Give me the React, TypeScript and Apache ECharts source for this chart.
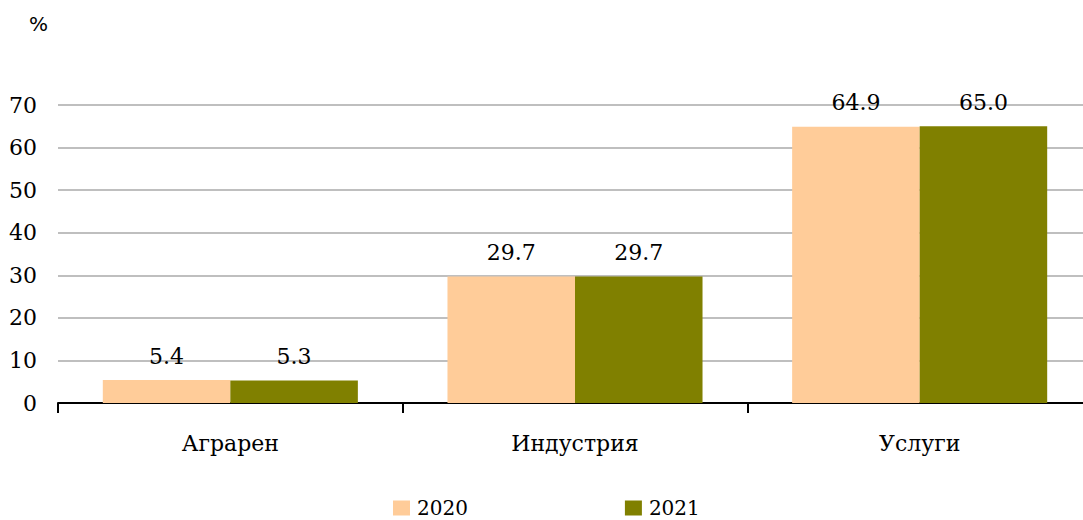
import React, { useEffect, useRef } from "react";
import * as echarts from "echarts";

const categories = ["Аграрен", "Индустрия", "Услуги"];
const series2020 = [5.4, 29.7, 64.9];
const series2021 = [5.3, 29.7, 65.0];
const seriesNames = ["2020", "2021"];
const yTicks = { min: 0, max: 70, interval: 10 };
const unitLabel = "%";

const FONT = "DejaVu Serif";

export default function App() {
  const ref = useRef<HTMLDivElement>(null);
  useEffect(() => {
    if (!ref.current) return;
    const chart = echarts.init(ref.current, undefined, { renderer: "svg" });
    const labelStyle = {
      show: true,
      position: "top" as const,
      distance: 13,
      fontFamily: FONT,
      fontSize: 22,
      color: "#000",
      formatter: (p: any) => Number(p.value).toFixed(1),
    };
    chart.setOption({
      animation: false,
      backgroundColor: "#fff",
      textStyle: { fontFamily: FONT },
      title: {
        text: unitLabel,
        left: 29,
        top: 14,
        padding: 0,
        textStyle: { fontFamily: "DejaVu Sans", fontSize: 20, fontWeight: "normal", color: "#000" },
      },
      grid: { left: 58, right: 0, top: 105, bottom: 117, containLabel: false },
      legend: {
        left: 393,
        top: 498,
        padding: 0,
        itemWidth: 17,
        itemHeight: 15,
        itemGap: 157,
        icon: "rect",
        textStyle: { fontFamily: FONT, fontSize: 20, color: "#000", padding: [0, 0, 0, 2] },
        data: seriesNames,
      },
      xAxis: {
        type: "category",
        data: categories,
        axisLine: { show: true, lineStyle: { color: "#000", width: 2 } },
        axisTick: { show: true, length: 10, lineStyle: { color: "#000", width: 2 } },
        axisLabel: { margin: 29, fontFamily: FONT, fontSize: 22, color: "#000" },
        splitLine: { show: false },
      },
      yAxis: {
        type: "value",
        min: yTicks.min,
        max: yTicks.max,
        interval: yTicks.interval,
        axisLine: { show: false },
        axisTick: { show: false },
        axisLabel: { margin: 21, fontFamily: FONT, fontSize: 22, color: "#000" },
        splitLine: { show: true, lineStyle: { color: "#BFBFBF", width: 2 } },
      },
      series: [
        {
          name: seriesNames[0],
          type: "bar",
          data: series2020,
          barGap: "0%",
          barCategoryGap: "26%",
          itemStyle: { color: "#FFCC99" },
          label: labelStyle,
        },
        {
          name: seriesNames[1],
          type: "bar",
          data: series2021,
          barGap: "0%",
          barCategoryGap: "26%",
          itemStyle: { color: "#808000" },
          label: labelStyle,
        },
      ],
    });
    return () => chart.dispose();
  }, []);
  return (
    <div style={{ position: "absolute", left: 0, top: 0, width: 1083, height: 520, overflow: "hidden" }}>
      <div ref={ref} style={{ width: 1092, height: 520 }} />
    </div>
  );
}
